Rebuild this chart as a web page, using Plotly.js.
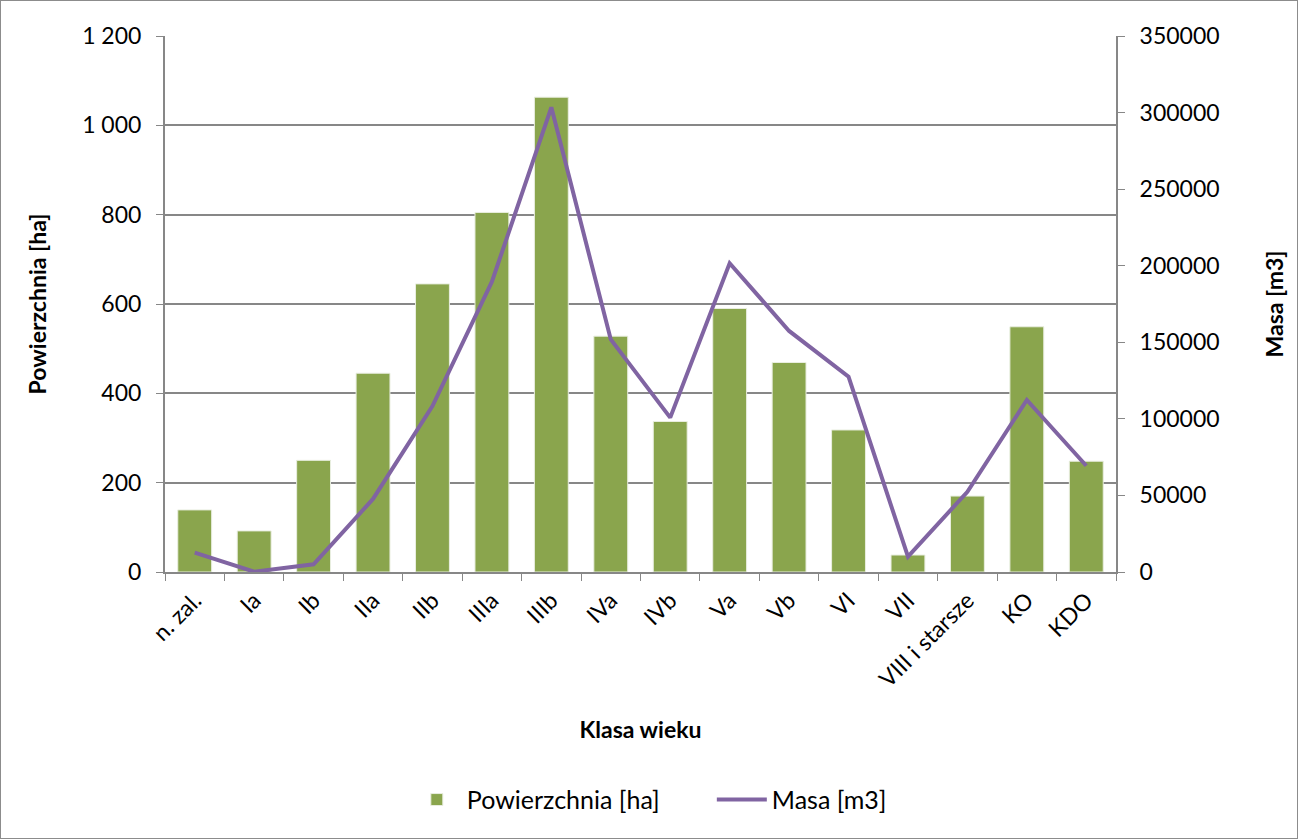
<!DOCTYPE html>
<html>
<head>
<meta charset="utf-8">
<script src="https://cdn.plot.ly/plotly-3.0.1.min.js"></script>
<style>
html,body{margin:0;padding:0;background:#fff;}
#frame{position:absolute;left:0;top:0;width:1296px;height:837px;border:1px solid #8c8c8c;}
#chart{width:1296px;height:837px;}
</style>
</head>
<body>
<div id="frame"><div id="chart"></div></div>
<script>
const categories = ["n. zal.", "Ia", "Ib", "IIa", "IIb", "IIIa", "IIIb", "IVa", "IVb", "Va", "Vb", "VI", "VII", "VIII i starsze", "KO", "KDO"];
const powierzchnia = [139, 92, 250, 445, 645, 805, 1063, 528, 337, 590, 469, 318, 38, 170, 549, 248];
const masa = [12600, 200, 5000, 47700, 108400, 189600, 303400, 151900, 100800, 201600, 157400, 127500, 10000, 52400, 112300, 69400];

const FONT = "Lato, 'Open Sans', sans-serif";
const grid = "#878787";
const FS = 23;

const traces = [
  {
    type: "bar",
    name: "Powierzchnia [ha]",
    x: categories,
    y: powierzchnia,
    marker: {color: "#8aa54d", line: {color: "#e9eee0", width: 1}},
    yaxis: "y"
  },
  {
    type: "scatter",
    mode: "lines",
    name: "Masa [m3]",
    x: categories,
    y: masa,
    line: {color: "#8064a2", width: 4},
    yaxis: "y2"
  }
];

const layout = {
  width: 1296,
  height: 837,
  margin: {l: 164, r: 181, t: 35, b: 266},
  paper_bgcolor: "#ffffff",
  plot_bgcolor: "#ffffff",
  separators: ", ",
  font: {family: FONT, size: FS, color: "#000"},
  bargap: 0.43,
  showlegend: true,
  legend: {
    orientation: "h",
    x: 0.575, xanchor: "center",
    y: -0.425, yanchor: "middle",
    font: {family: FONT, size: 25, color: "#000"},
    itemwidth: 50,
    entrywidth: 240,
    entrywidthmode: "pixels",
    traceorder: "normal"
  },
  xaxis: {
    type: "category",
    tickangle: -45,
    tickson: "boundaries",
    ticks: "outside",
    ticklen: 7,
    tickcolor: grid,
    ticklabelstandoff: 4,
    showline: true,
    linecolor: grid,
    linewidth: 2,
    showgrid: false,
    tickfont: {family: FONT, size: FS},
    title: {text: "<b>Klasa wieku</b>", font: {family: FONT, size: FS}, standoff: 31}
  },
  yaxis: {
    range: [0, 1200],
    dtick: 200,
    tick0: 0,
    separatethousands: true,
    ticks: "outside",
    ticklen: 7,
    tickcolor: grid,
    ticklabelstandoff: 10,
    showline: true,
    linecolor: grid,
    linewidth: 2,
    showgrid: true,
    gridcolor: grid,
    gridwidth: 2,
    zeroline: false,
    tickfont: {family: FONT, size: FS},
    title: {text: "<b>Powierzchnia [ha]</b>", font: {family: FONT, size: FS}, standoff: 29}
  },
  yaxis2: {
    overlaying: "y",
    side: "right",
    range: [0, 350000],
    dtick: 50000,
    tick0: 0,
    tickformat: "d",
    ticks: "outside",
    ticklen: 7,
    tickcolor: grid,
    ticklabelstandoff: 10,
    showline: true,
    linecolor: grid,
    linewidth: 2,
    showgrid: false,
    zeroline: false,
    tickfont: {family: FONT, size: FS},
    title: {text: "<b>Masa [m3]</b>", font: {family: FONT, size: FS}, standoff: 48}
  }
};

Plotly.newPlot("chart", traces, layout, {displayModeBar: false, staticPlot: true});
</script>
</body>
</html>
